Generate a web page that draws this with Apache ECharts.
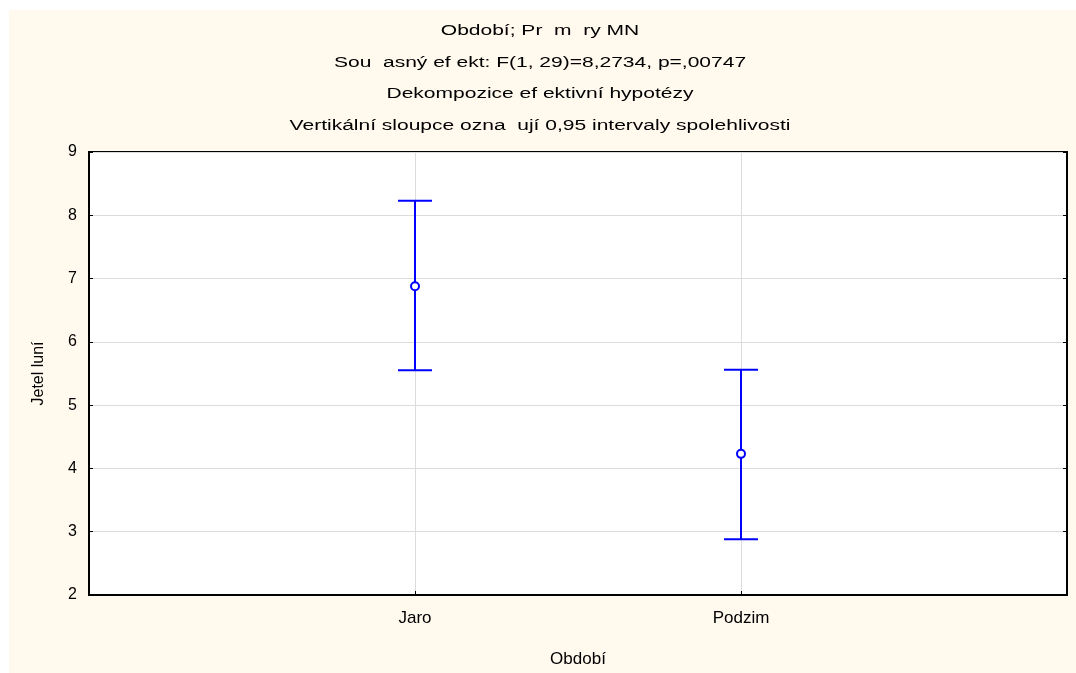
<!DOCTYPE html>
<html>
<head>
<meta charset="utf-8">
<script src="https://cdn.jsdelivr.net/npm/echarts@6/dist/echarts.min.js"></script>
<style>
html,body{margin:0;padding:0;background:#fff;}
#bg{position:absolute;left:9px;top:10px;width:1067px;height:663px;background:#FFF9EE;}
#chart{position:absolute;left:0;top:0;width:1076px;height:673px;}
</style>
</head>
<body>
<div id="bg"></div>
<div id="chart"></div>
<script>
const titleLines = [
  'Období; Pr  m  ry MN',
  'Sou  asný ef ekt: F(1, 29)=8,2734, p=,00747',
  'Dekompozice ef ektivní hypotézy',
  'Vertikální sloupce ozna  ují 0,95 intervaly spolehlivosti'
];
const categories = ['Jaro', 'Podzim'];
const means = [6.88, 4.23];
const lower = [5.55, 2.88];
const upper = [8.23, 5.56];
const yTicks = [2, 3, 4, 5, 6, 7, 8, 9];
const xName = 'Období';
const yName = 'Jetel luní';

const errData = categories.map((c, i) => [i + 1, lower[i], upper[i]]);
const meanData = categories.map((c, i) => [i + 1, means[i]]);

const chart = echarts.init(document.getElementById('chart'), null, {renderer: 'canvas'});
const font = 'Liberation Sans, Arial, sans-serif';
const titleY = [31, 63, 94, 126];
chart.setOption({
  backgroundColor: 'transparent',
  animation: false,
  graphic: titleLines.map((t, i) => ({
    type: 'text',
    x: 540, y: titleY[i],
    scaleX: 1.5,
    style: {text: t, fontFamily: font, fontSize: 14, fill: '#000', align: 'center', verticalAlign: 'middle'}
  })),
  grid: {
    left: 89, right: 9, top: 152, bottom: 74,
    show: true, backgroundColor: '#fff', borderColor: '#000', borderWidth: 2
  },
  xAxis: {
    type: 'value', min: 0, max: 3, interval: 1,
    name: xName, nameLocation: 'middle', nameGap: 56,
    nameTextStyle: {fontFamily: font, fontSize: 17, color: '#000'},
    axisLine: {show: true, lineStyle: {color: '#000', width: 2}},
    axisTick: {show: true, inside: true, length: 4, lineStyle: {color: '#000', width: 1}},
    axisLabel: {
      fontFamily: font, fontSize: 17, color: '#000', margin: 15,
      formatter: v => (v >= 1 && v <= categories.length) ? categories[v - 1] : ''
    },
    splitLine: {show: true, lineStyle: {color: '#dcdcdc', width: 1}}
  },
  yAxis: [{
    type: 'value', min: yTicks[0], max: yTicks[yTicks.length - 1], interval: 1,
    name: yName, nameLocation: 'middle', nameGap: 42,
    nameTextStyle: {fontFamily: font, fontSize: 16, color: '#000'},
    axisLine: {show: true, lineStyle: {color: '#000', width: 2}},
    axisTick: {show: true, inside: true, length: 4, lineStyle: {color: '#000', width: 1}},
    axisLabel: {fontFamily: font, fontSize: 16, color: '#000', margin: 12},
    splitLine: {show: true, lineStyle: {color: '#dcdcdc', width: 1}}
  }, {
    type: 'value', position: 'right', min: yTicks[0], max: yTicks[yTicks.length - 1], interval: 1,
    axisLine: {show: true, lineStyle: {color: '#000', width: 2}},
    axisTick: {show: true, inside: true, length: 4, lineStyle: {color: '#000', width: 1}},
    axisLabel: {show: false},
    splitLine: {show: false}
  }],
  series: [{
    type: 'custom',
    data: errData,
    z: 3,
    renderItem: function (params, api) {
      const x = api.value(0);
      const lo = api.coord([x, api.value(1)]);
      const hi = api.coord([x, api.value(2)]);
      const hw = 17;
      const style = {stroke: '#0000ff', lineWidth: 2};
      return {
        type: 'group',
        children: [
          {type: 'line', shape: {x1: lo[0], y1: lo[1], x2: hi[0], y2: hi[1]}, style: style},
          {type: 'line', shape: {x1: hi[0] - hw, y1: hi[1], x2: hi[0] + hw, y2: hi[1]}, style: style},
          {type: 'line', shape: {x1: lo[0] - hw, y1: lo[1], x2: lo[0] + hw, y2: lo[1]}, style: style}
        ]
      };
    }
  }, {
    type: 'scatter',
    data: meanData,
    z: 5,
    symbol: 'circle',
    symbolSize: 8,
    itemStyle: {color: '#fff', borderColor: '#0000ff', borderWidth: 2, opacity: 1}
  }]
});
</script>
</body>
</html>
